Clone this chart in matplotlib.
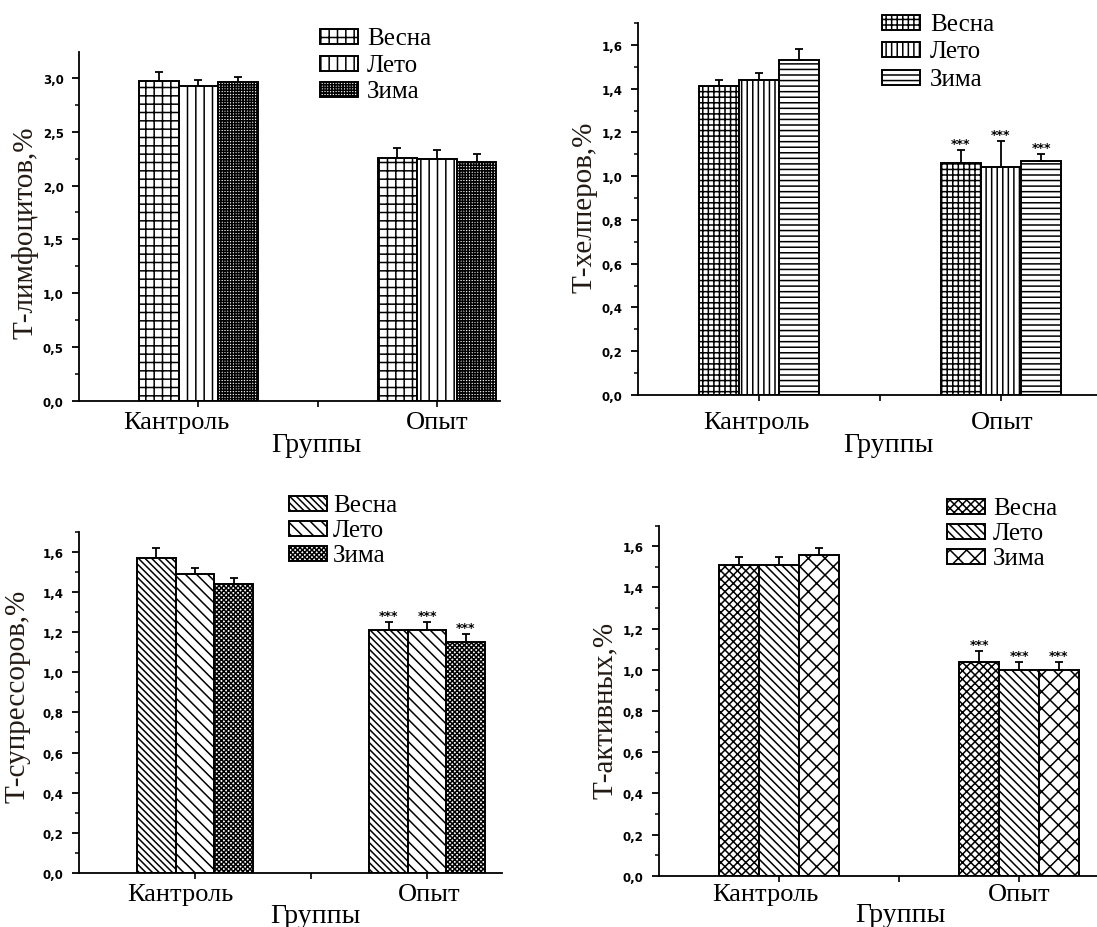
import matplotlib
matplotlib.use("Agg")
import matplotlib.pyplot as plt
import numpy as np
from matplotlib.ticker import MultipleLocator, FuncFormatter
from matplotlib.transforms import blended_transform_factory
from matplotlib.patches import Rectangle

W, H = 1097, 928
groups = ['Кантроль', 'Опыт']
seasons = ['Весна', 'Лето', 'Зима']

# Panel 1: T-lymphocytes
lymph_means = [[2.97, 2.26], [2.92, 2.25], [2.96, 2.22]]
lymph_errs = [[0.08, 0.09], [0.06, 0.08], [0.05, 0.07]]
# Panel 2: T-helpers
help_means = [[1.41, 1.06], [1.44, 1.04], [1.53, 1.07]]
help_errs = [[0.03, 0.06], [0.03, 0.12], [0.05, 0.03]]
# Panel 3: T-suppressors
supp_means = [[1.57, 1.21], [1.49, 1.21], [1.44, 1.15]]
supp_errs = [[0.05, 0.04], [0.03, 0.04], [0.03, 0.04]]
# Panel 4: T-active
act_means = [[1.51, 1.04], [1.51, 1.00], [1.56, 1.00]]
act_errs = [[0.04, 0.05], [0.04, 0.04], [0.03, 0.04]]

ylabels = ['Т-лимфоцитов,%', 'Т-хелперов,%', 'Т-супрессоров,%', 'Т-активных,%']
xlabel = 'Группы'
stars = '***'

plt.rcParams['hatch.linewidth'] = 1.1
SERIF = ['Liberation Serif', 'DejaVu Serif']
LABCOL = '#231a14'

fig = plt.figure(figsize=(W / 100, H / 100), dpi=100)


def make_axes(x0, x1, ytop, ybot):
    return fig.add_axes([x0 / W, 1 - ybot / H, (x1 - x0) / W, (ybot - ytop) / H])


def fmt(v, pos):
    return ('%.1f' % v).replace('.', ',')


def panel(spec):
    ax = make_axes(spec['x0'], spec['x1'], spec['ytop'], spec['ybot'])
    means, errs, hatches = spec['means'], spec['errs'], spec['hatches']
    w = 0.166
    x = np.arange(len(groups))
    for i, s in enumerate(seasons):
        pos = x + (i - 1) * w
        ax.bar(pos, means[i], width=w, color='white', edgecolor='black',
               linewidth=1.4, hatch=hatches[i], label=s, zorder=2)
        ax.errorbar(pos, means[i], yerr=[np.zeros(len(groups)), errs[i]], fmt='none',
                    ecolor='black', elinewidth=1.3, capsize=2.6, capthick=1.3, zorder=3)
        if spec['stars']:
            ax.annotate(stars, (pos[1], means[i][1] + errs[i][1]), xytext=(0, 0),
                        textcoords='offset points', ha='center', va='bottom',
                        fontsize=9, fontweight='bold', family='DejaVu Sans')
    ax.set_xlim(-0.5, spec['xr'])
    ax.set_ylim(0, spec['ymax'])
    for side in ('top', 'right'):
        ax.spines[side].set_visible(False)
    for side in ('left', 'bottom'):
        ax.spines[side].set_linewidth(1.3)
    ax.yaxis.set_major_locator(MultipleLocator(spec['major']))
    ax.yaxis.set_minor_locator(MultipleLocator(spec['major'] / 2))
    ax.yaxis.set_major_formatter(FuncFormatter(fmt))
    ax.tick_params(axis='y', which='major', length=5, width=1.3, direction='out', pad=6,
                   labelsize=8.5)
    ax.tick_params(axis='y', which='minor', length=3, width=1.1, direction='out')
    for t in ax.get_yticklabels():
        t.set_fontweight('heavy')
        t.set_family('DejaVu Sans')
    ax.set_xticks([0, 0.5, 1])
    ax.set_xticklabels(['', '', ''])
    ax.tick_params(axis='x', length=4, width=1.2, direction='out')
    tr = blended_transform_factory(ax.transData, fig.transFigure)
    for g, dx in zip(x, spec['xlab_dx']):
        ax.text(g + dx, 1 - spec['xlab_y'] / H, groups[g], transform=tr, ha='center',
                va='center', fontsize=19, family=SERIF)
    fig.text(spec['grp'][0] / W, 1 - spec['grp'][1] / H, xlabel, ha='center', va='center',
             fontsize=20, family=SERIF)
    fig.text(spec['yl'][0] / W, 1 - spec['yl'][1] / H, spec['ylabel'], rotation=90,
             ha='center', va='center', fontsize=21, family=SERIF, color=LABCOL)
    # legend: hatched swatches with labels
    lx, rows, tx = spec['leg']
    for i, s in enumerate(seasons):
        cy = rows[i]
        fig.add_artist(Rectangle(((lx) / W, 1 - (cy + 7.5) / H), 38 / W, 15 / H,
                                 transform=fig.transFigure, facecolor='white',
                                 edgecolor='black', linewidth=1.4, hatch=hatches[i]))
        fig.text(tx / W, 1 - (cy + 8) / H, s, ha='left', va='baseline', fontsize=18,
                 family=SERIF)
    return ax


specs = [
    dict(x0=79, x1=500, ytop=53, ybot=402, xr=1.264, ymax=3.24, major=0.5,
         means=lymph_means, errs=lymph_errs, hatches=['++', '||', '++++++'], stars=False,
         xlab_dx=[-0.092, 0.0], xlab_y=423, grp=(316, 446), yl=(25, 233),
         ylabel=ylabels[0], leg=(320, [37, 64, 90], 367)),
    dict(x0=638, x1=1097, ytop=24, ybot=396, xr=1.397, ymax=1.7, major=0.2,
         means=help_means, errs=help_errs, hatches=['+++', '|||', '---'], stars=True,
         xlab_dx=[-0.012, 0.006], xlab_y=423, grp=(888, 446), yl=(585, 207),
         ylabel=ylabels[1], leg=(882, [23, 50, 78], 930)),
    dict(x0=79, x1=502, ytop=532.7, ybot=874, xr=1.323, ymax=1.7, major=0.2,
         means=supp_means, errs=supp_errs, hatches=['\\\\\\\\\\', '\\\\\\', 'xxxxxxx'],
         stars=True, xlab_dx=[-0.065, 0.01], xlab_y=895, grp=(315, 917), yl=(18, 696),
         ylabel=ylabels[2], leg=(289, [504, 529, 554], 333)),
    dict(x0=659, x1=1097, ytop=526.7, ybot=876.7, xr=1.325, ymax=1.7, major=0.2,
         means=act_means, errs=act_errs, hatches=['xxxx', '\\\\\\\\', 'xx'], stars=True,
         xlab_dx=[-0.058, 0.0], xlab_y=895, grp=(900, 916), yl=(605, 710),
         ylabel=ylabels[3], leg=(947, [507, 532, 557], 993)),
]

for sp in specs:
    panel(sp)

fig.savefig('out.png', dpi=100, facecolor='white')
